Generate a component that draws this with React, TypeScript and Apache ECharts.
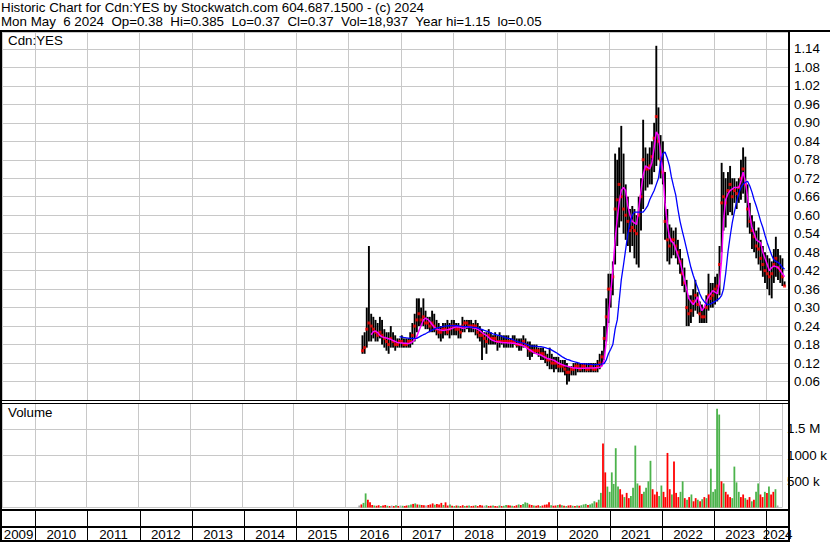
import React, { useEffect, useRef } from "react";
import * as echarts from "echarts";

const FONT = '"Liberation Sans", Arial, Helvetica, sans-serif';
const FS = 13.33;
const GRID_COLOR = "#c8c8c8";

const TITLE_LINE_1 = "Historic Chart for Cdn:YES by Stockwatch.com 604.687.1500 - (c) 2024";
const TITLE_LINE_2 = "Mon May  6 2024  Op=0.38  Hi=0.385  Lo=0.37  Cl=0.37  Vol=18,937  Year hi=1.15  lo=0.05";
const PRICE_PANEL_LABEL = "Cdn:YES";
const VOLUME_PANEL_LABEL = "Volume";
const YEAR_LABELS = ["2009", "2010", "2011", "2012", "2013", "2014", "2015", "2016", "2017", "2018", "2019", "2020", "2021", "2022", "2023", "2024"];
const PRICE_STEP = 0.06;
const VOLUME_TICK_LABELS: Record<number, string> = { 500000: "500 k", 1000000: "1000 k", 1500000: "1.5 M" };

const X_MIN = "2009-05-14";
const X_MAX = "2024-06-08";

// half-monthly samples (8th and 23rd of each month), starting April 2016
const FIRST_YEAR = 2016;
const FIRST_MONTH = 4;
const SAMPLE_DAYS = ["08", "23"];

const HIGH = [
  // 2016 (Apr-Dec)
  0.21, 0.22, 0.30, 0.50, 0.28, 0.27, 0.26, 0.25, 0.27, 0.26, 0.23, 0.22, 0.22, 0.24, 0.22, 0.21, 0.20, 0.20,
  // 2017
  0.21, 0.20, 0.20, 0.20, 0.22, 0.25, 0.28, 0.33, 0.33, 0.30, 0.33, 0.29, 0.27, 0.27, 0.29, 0.28, 0.26, 0.25, 0.24, 0.25, 0.25, 0.26, 0.25, 0.26,
  // 2018
  0.26, 0.25, 0.25, 0.24, 0.27, 0.26, 0.26, 0.26, 0.26, 0.25, 0.26, 0.25, 0.24, 0.23, 0.22, 0.22, 0.23, 0.22, 0.21, 0.22, 0.21, 0.22, 0.21, 0.21,
  // 2019
  0.21, 0.21, 0.20, 0.21, 0.21, 0.20, 0.20, 0.20, 0.21, 0.20, 0.19, 0.19, 0.18, 0.18, 0.18, 0.17, 0.17, 0.17, 0.16, 0.15, 0.17, 0.15, 0.14, 0.14,
  // 2020
  0.14, 0.13, 0.13, 0.13, 0.12, 0.11, 0.11, 0.12, 0.12, 0.12, 0.12, 0.12, 0.12, 0.12, 0.12, 0.12, 0.12, 0.12, 0.13, 0.15, 0.16, 0.24, 0.33, 0.41,
  // 2021
  0.41, 0.45, 0.80, 0.78, 0.82, 0.89, 0.80, 0.70, 0.66, 0.62, 0.63, 0.62, 0.60, 0.66, 0.72, 0.91, 0.82, 0.80, 0.82, 0.84, 0.90, 1.15, 0.95, 0.86,
  // 2022
  0.84, 0.74, 0.62, 0.57, 0.56, 0.55, 0.56, 0.52, 0.49, 0.46, 0.43, 0.39, 0.34, 0.34, 0.36, 0.39, 0.35, 0.32, 0.31, 0.30, 0.34, 0.41, 0.38, 0.38,
  // 2023
  0.40, 0.41, 0.50, 0.77, 0.74, 0.72, 0.74, 0.76, 0.72, 0.72, 0.71, 0.72, 0.78, 0.82, 0.79, 0.70, 0.64, 0.60, 0.58, 0.55, 0.56, 0.52, 0.50, 0.48,
  // 2024 (Jan-May)
  0.47, 0.46, 0.45, 0.49, 0.53, 0.49, 0.47, 0.46, 0.385,
];

const LOW = [
  0.15, 0.15, 0.17, 0.19, 0.19, 0.20, 0.19, 0.19, 0.20, 0.18, 0.17, 0.16, 0.15, 0.17, 0.17, 0.16, 0.17, 0.17,
  0.17, 0.17, 0.17, 0.17, 0.17, 0.18, 0.19, 0.22, 0.24, 0.24, 0.24, 0.23, 0.23, 0.22, 0.22, 0.22, 0.21, 0.20, 0.19, 0.20, 0.21, 0.21, 0.20, 0.21,
  0.21, 0.21, 0.20, 0.20, 0.22, 0.22, 0.23, 0.22, 0.22, 0.22, 0.21, 0.20, 0.19, 0.13, 0.17, 0.15, 0.18, 0.18, 0.18, 0.18, 0.16, 0.17, 0.18, 0.17,
  0.17, 0.17, 0.17, 0.17, 0.18, 0.17, 0.16, 0.16, 0.17, 0.17, 0.14, 0.13, 0.14, 0.15, 0.15, 0.14, 0.13, 0.13, 0.12, 0.11, 0.10, 0.10, 0.09, 0.10,
  0.09, 0.09, 0.09, 0.08, 0.05, 0.06, 0.08, 0.08, 0.08, 0.09, 0.09, 0.09, 0.09, 0.09, 0.09, 0.09, 0.09, 0.09, 0.09, 0.10, 0.11, 0.13, 0.19, 0.25,
  0.30, 0.34, 0.44, 0.50, 0.56, 0.58, 0.54, 0.52, 0.50, 0.48, 0.50, 0.46, 0.44, 0.43, 0.55, 0.62, 0.68, 0.69, 0.70, 0.70, 0.74, 0.76, 0.78, 0.72,
  0.70, 0.52, 0.45, 0.44, 0.46, 0.47, 0.46, 0.44, 0.41, 0.37, 0.35, 0.24, 0.24, 0.25, 0.27, 0.29, 0.28, 0.25, 0.25, 0.25, 0.25, 0.29, 0.30, 0.30,
  0.31, 0.32, 0.34, 0.48, 0.55, 0.56, 0.60, 0.61, 0.60, 0.64, 0.62, 0.64, 0.65, 0.67, 0.64, 0.56, 0.54, 0.49, 0.48, 0.46, 0.44, 0.42, 0.40, 0.38,
  0.36, 0.34, 0.33, 0.38, 0.40, 0.39, 0.38, 0.37, 0.37,
];

const CLOSE = [
  0.16, 0.17, 0.23, 0.25, 0.24, 0.23, 0.22, 0.21, 0.22, 0.21, 0.20, 0.19, 0.18, 0.20, 0.19, 0.18, 0.18, 0.19,
  0.19, 0.18, 0.18, 0.19, 0.19, 0.21, 0.24, 0.26, 0.28, 0.26, 0.27, 0.25, 0.25, 0.24, 0.25, 0.24, 0.23, 0.22, 0.22, 0.23, 0.23, 0.22, 0.23, 0.24,
  0.24, 0.23, 0.23, 0.22, 0.24, 0.25, 0.25, 0.24, 0.24, 0.24, 0.24, 0.22, 0.21, 0.21, 0.20, 0.19, 0.21, 0.20, 0.20, 0.20, 0.19, 0.19, 0.19, 0.19,
  0.19, 0.19, 0.19, 0.19, 0.19, 0.18, 0.18, 0.18, 0.19, 0.18, 0.17, 0.16, 0.16, 0.16, 0.16, 0.16, 0.15, 0.15, 0.14, 0.13, 0.13, 0.12, 0.12, 0.12,
  0.11, 0.11, 0.11, 0.10, 0.09, 0.09, 0.10, 0.10, 0.11, 0.11, 0.10, 0.11, 0.11, 0.10, 0.10, 0.11, 0.10, 0.10, 0.11, 0.12, 0.14, 0.20, 0.27, 0.36,
  0.36, 0.40, 0.62, 0.65, 0.70, 0.66, 0.62, 0.60, 0.58, 0.55, 0.56, 0.55, 0.54, 0.60, 0.66, 0.78, 0.75, 0.75, 0.76, 0.79, 0.85, 0.92, 0.84, 0.78,
  0.74, 0.58, 0.52, 0.50, 0.52, 0.52, 0.50, 0.48, 0.45, 0.41, 0.38, 0.30, 0.28, 0.29, 0.32, 0.34, 0.31, 0.28, 0.27, 0.27, 0.30, 0.34, 0.33, 0.34,
  0.36, 0.37, 0.44, 0.64, 0.66, 0.64, 0.68, 0.70, 0.66, 0.68, 0.67, 0.69, 0.72, 0.75, 0.70, 0.62, 0.58, 0.55, 0.53, 0.50, 0.49, 0.46, 0.44, 0.42,
  0.41, 0.40, 0.41, 0.44, 0.46, 0.43, 0.42, 0.40, 0.37,
];

// short moving average (magenta)
const MA_SHORT = [
  null, null, null, null, 0.212, 0.222, 0.224, 0.219, 0.21, 0.205, 0.203, 0.201, 0.199, 0.197, 0.193, 0.19, 0.187, 0.186,
  0.185, 0.184, 0.184, 0.183, 0.185, 0.189, 0.196, 0.206, 0.225, 0.242, 0.26, 0.266, 0.262, 0.255, 0.245, 0.236, 0.231, 0.228, 0.227, 0.226, 0.227, 0.228, 0.23, 0.232,
  0.235, 0.238, 0.237, 0.235, 0.233, 0.234, 0.236, 0.237, 0.236, 0.234, 0.233, 0.229, 0.225, 0.219, 0.214, 0.21, 0.203, 0.197, 0.193, 0.191, 0.189, 0.188, 0.187, 0.186,
  0.186, 0.185, 0.185, 0.184, 0.184, 0.183, 0.18, 0.178, 0.176, 0.172, 0.167, 0.163, 0.158, 0.153, 0.15, 0.148, 0.146, 0.142, 0.138, 0.135, 0.133, 0.131, 0.129, 0.125,
  0.12, 0.117, 0.114, 0.111, 0.11, 0.108, 0.106, 0.104, 0.104, 0.103, 0.103, 0.103, 0.103, 0.104, 0.104, 0.104, 0.104, 0.105, 0.105, 0.106, 0.11, 0.13, 0.19, 0.27,
  0.35, 0.42, 0.52, 0.59, 0.64, 0.68, 0.69, 0.68, 0.63, 0.60, 0.58, 0.575, 0.57, 0.62, 0.68, 0.73, 0.76, 0.755, 0.75, 0.77, 0.82, 0.87, 0.86, 0.80,
  0.74, 0.64, 0.57, 0.53, 0.515, 0.51, 0.49, 0.47, 0.45, 0.42, 0.39, 0.36, 0.33, 0.32, 0.31, 0.32, 0.335, 0.31, 0.29, 0.30, 0.32, 0.335, 0.345, 0.355,
  0.35, 0.345, 0.38, 0.46, 0.58, 0.65, 0.67, 0.68, 0.685, 0.69, 0.69, 0.69, 0.71, 0.74, 0.71, 0.66, 0.60, 0.56, 0.54, 0.52, 0.515, 0.51, 0.48, 0.46,
  0.44, 0.42, 0.43, 0.435, 0.433, 0.43, 0.42, 0.41, 0.40,
];

// long moving average (blue)
const MA_LONG = [
  null, null, null, null, null, null, null, null, null, null, null, null, null, null, null, null, null, 0.206,
  0.204, 0.203, 0.202, 0.201, 0.20, 0.20, 0.20, 0.20, 0.204, 0.208, 0.212, 0.215, 0.219, 0.223, 0.227, 0.23, 0.233, 0.235, 0.237, 0.239, 0.24, 0.241, 0.241, 0.241,
  0.241, 0.241, 0.241, 0.24, 0.239, 0.238, 0.238, 0.237, 0.237, 0.236, 0.236, 0.234, 0.231, 0.229, 0.226, 0.224, 0.221, 0.218, 0.215, 0.213, 0.211, 0.209, 0.207, 0.204,
  0.202, 0.20, 0.199, 0.196, 0.193, 0.19, 0.188, 0.186, 0.185, 0.182, 0.179, 0.176, 0.175, 0.175, 0.174, 0.173, 0.173, 0.172, 0.17, 0.168, 0.166, 0.162, 0.158, 0.154,
  0.149, 0.144, 0.139, 0.135, 0.132, 0.13, 0.127, 0.125, 0.123, 0.121, 0.119, 0.118, 0.117, 0.117, 0.116, 0.116, 0.115, 0.115, 0.115, 0.116, 0.117, 0.118, 0.13, 0.15,
  0.165, 0.18, 0.23, 0.26, 0.32, 0.39, 0.44, 0.49, 0.54, 0.575, 0.60, 0.61, 0.61, 0.61, 0.61, 0.61, 0.62, 0.63, 0.65, 0.665, 0.68, 0.70, 0.72, 0.77,
  0.80, 0.805, 0.785, 0.76, 0.725, 0.695, 0.665, 0.62, 0.58, 0.55, 0.52, 0.49, 0.46, 0.43, 0.405, 0.385, 0.365, 0.345, 0.33, 0.32, 0.312, 0.31, 0.312, 0.316,
  0.32, 0.325, 0.33, 0.34, 0.36, 0.41, 0.48, 0.53, 0.575, 0.61, 0.645, 0.67, 0.69, 0.70, 0.707, 0.71, 0.695, 0.675, 0.65, 0.63, 0.605, 0.58, 0.56, 0.535,
  0.51, 0.49, 0.47, 0.455, 0.45, 0.447, 0.44, 0.43, 0.425,
];

// volume in thousands of shares
const VOLUME_K = [
  40, 60, 90, 270, 150, 100, 50, 40, 35, 45, 30, 40, 50, 35, 30, 40, 30, 45,
  30, 40, 35, 30, 40, 45, 60, 70, 80, 60, 55, 50, 45, 40, 50, 60, 80, 55, 70, 60, 90, 50, 100, 40,
  60, 35, 30, 40, 35, 30, 45, 30, 35, 40, 30, 35, 45, 30, 50, 40, 35, 45, 30, 35, 40, 30, 25, 40,
  30, 35, 50, 45, 40, 35, 30, 45, 60, 50, 70, 100, 90, 60, 50, 40, 35, 45, 30, 40, 55, 60, 100, 45,
  35, 40, 50, 60, 45, 35, 30, 40, 45, 35, 30, 40, 35, 45, 60, 70, 50, 60, 80, 120, 100, 150, 280, 1220,
  670, 400, 300, 670, 450, 1130, 400, 350, 250, 200, 280, 180, 220, 380, 1180, 460, 420, 260, 300, 380, 500, 890, 350, 250,
  300, 220, 420, 300, 200, 1040, 350, 250, 875, 280, 200, 300, 500, 180, 150, 200, 250, 120, 180, 150, 120, 160, 200, 180,
  250, 740, 300, 350, 1880, 1770, 500, 460, 300, 250, 200, 180, 780, 480, 300, 200, 250, 180, 150, 200, 120, 150, 300, 460,
  250, 200, 300, 280, 400, 250, 300, 350, 40,
];

// 1 = up day (green), -1 = down day (red), 0 = unchanged (grey)
const VOLUME_DIR = [
  0, -1, 1, 1, -1, -1, -1, 1, -1, -1, 1, -1, -1, 1, -1, 0, -1, 1,
  -1, 0, 1, -1, -1, 1, 1, -1, 1, -1, 1, -1, -1, 0, -1, -1, -1, 1, -1, -1, -1, 1, -1, -1,
  1, -1, 1, -1, 1, -1, -1, 1, -1, 1, -1, -1, 1, -1, -1, -1, 0, 1, -1, -1, 1, -1, -1, 1,
  -1, 1, 1, -1, -1, 1, -1, -1, 1, -1, 1, 1, 1, -1, -1, 1, -1, -1, 1, -1, -1, -1, -1, 1,
  -1, -1, 1, -1, 1, -1, 1, -1, -1, 1, -1, 1, -1, 1, 1, 1, -1, 1, 1, 1, -1, 1, 1, -1,
  -1, 1, 1, 1, 1, 1, 1, -1, -1, 1, -1, -1, 1, 1, 1, 1, -1, -1, 1, 1, 1, 1, -1, -1,
  -1, 1, 1, -1, -1, -1, -1, 1, -1, -1, -1, 1, 1, -1, 1, -1, 1, -1, -1, 1, -1, 1, -1, 1,
  -1, 1, 1, 1, 1, 1, -1, 1, -1, -1, -1, 1, 1, 1, 1, -1, -1, 1, -1, -1, 1, -1, 1, 1,
  -1, -1, 1, -1, 1, -1, -1, 1, 0,
];

const DATES = HIGH.map((_, i) => {
  const m = FIRST_MONTH - 1 + Math.floor(i / 2);
  const y = FIRST_YEAR + Math.floor(m / 12);
  const mo = String((m % 12) + 1).padStart(2, "0");
  return `${y}-${mo}-${SAMPLE_DAYS[i % 2]}`;
});

const YEAR_MS = 365 * 24 * 3600 * 1000;
const VOL_COLORS: Record<string, string> = { "1": "#4cb34c", "-1": "#ff0000", "0": "#a8a8a8" };

function xAxis(gridIndex: number, split: boolean) {
  return {
    type: "time",
    gridIndex,
    min: X_MIN,
    max: X_MAX,
    minInterval: YEAR_MS,
    maxInterval: YEAR_MS,
    axisLine: { show: false },
    axisTick: { show: false },
    axisLabel: { show: false },
    splitLine: { show: split, lineStyle: { color: GRID_COLOR, width: 1 } },
  };
}

function txt(text: string, x: number, y: number) {
  return {
    type: "text",
    x,
    y,
    z: 100,
    style: { text, fontSize: FS, fontFamily: FONT, fill: "#000", align: "left", verticalAlign: "middle" },
  };
}

function ln(x1: number, y1: number, x2: number, y2: number, w: number) {
  return { type: "line", z: 100, shape: { x1, y1, x2, y2 }, style: { stroke: "#000", lineWidth: w } };
}

export default function App() {
  const ref = useRef<HTMLDivElement>(null);
  useEffect(() => {
    if (!ref.current) return;
    const chart = echarts.init(ref.current, null, { renderer: "svg" });
    const option: any = {
      animation: false,
      backgroundColor: "#ffffff",
      textStyle: { fontFamily: FONT, fontSize: FS, color: "#000" },
      grid: [
        { left: 2, top: 32, width: 787, height: 368 },
        { left: 2, top: 403, width: 787, height: 104.6 },
        { left: 2, top: 510, width: 787, height: 31 },
      ],
      xAxis: [xAxis(0, true), xAxis(1, true), xAxis(2, false)],
      yAxis: [
        {
          type: "value",
          gridIndex: 0,
          position: "right",
          min: 0,
          max: 1.1948,
          interval: PRICE_STEP,
          axisLine: { show: false },
          axisTick: { show: false },
          splitLine: { show: true, lineStyle: { color: GRID_COLOR, width: 1 } },
          axisLabel: {
            margin: 5,
            fontSize: FS,
            fontFamily: FONT,
            color: "#000",
            showMaxLabel: true,
            formatter: (v: number) => {
              const k = Math.round(v / PRICE_STEP);
              if (k < 1 || k > 19 || Math.abs(v - k * PRICE_STEP) > 1e-6) return "";
              return v.toFixed(2);
            },
          },
        },
        {
          type: "value",
          gridIndex: 1,
          position: "right",
          min: 0,
          max: 1990000,
          interval: 500000,
          axisLine: { show: false },
          axisTick: { show: false },
          splitLine: { show: true, lineStyle: { color: GRID_COLOR, width: 1 } },
          axisLabel: {
            margin: 5,
            fontSize: FS,
            fontFamily: FONT,
            color: "#000",
            formatter: (v: number) => VOLUME_TICK_LABELS[Math.round(v)] ?? "",
          },
        },
        { type: "value", gridIndex: 2, min: 0, max: 1, show: false },
      ],
      series: [
        {
          type: "custom",
          name: "High-Low",
          xAxisIndex: 0,
          yAxisIndex: 0,
          z: 2,
          dimensions: [{ name: "date", type: "time" }, { name: "low", type: "float" }, { name: "high", type: "float" }],
          encode: { x: 0, y: [1, 2] },
          data: DATES.map((d, i) => [d, LOW[i], HIGH[i]]),
          renderItem: (params: any, api: any) => {
            const t = api.value(0);
            const lo = api.coord([t, api.value(1)]);
            const hi = api.coord([t, api.value(2)]);
            return {
              type: "line",
              shape: { x1: lo[0], y1: lo[1], x2: hi[0], y2: hi[1] },
              style: { stroke: "#000", lineWidth: 1.9 },
            };
          },
        },
        {
          type: "scatter",
          name: "Close",
          xAxisIndex: 0,
          yAxisIndex: 0,
          z: 3,
          symbol: "rect",
          symbolSize: 3,
          itemStyle: { color: "#ff0000" },
          data: DATES.map((d, i) => [d, CLOSE[i]]),
        },
        {
          type: "line",
          name: "MA short",
          xAxisIndex: 0,
          yAxisIndex: 0,
          z: 4,
          symbol: "none",
          showSymbol: false,
          lineStyle: { color: "#ff00ff", width: 1.5 },
          data: DATES.map((d, i) => [d, MA_SHORT[i]]),
        },
        {
          type: "line",
          name: "MA long",
          xAxisIndex: 0,
          yAxisIndex: 0,
          z: 5,
          symbol: "none",
          showSymbol: false,
          lineStyle: { color: "#0000ff", width: 1.3 },
          data: DATES.map((d, i) => [d, MA_LONG[i]]),
        },
        {
          type: "custom",
          name: "Volume",
          xAxisIndex: 1,
          yAxisIndex: 1,
          z: 2,
          dimensions: [{ name: "date", type: "time" }, { name: "vol", type: "float" }],
          encode: { x: 0, y: 1 },
          data: DATES.map((d, i) => [d, VOLUME_K[i] * 1000]),
          renderItem: (params: any, api: any) => {
            const t = api.value(0);
            const base = api.coord([t, 0]);
            const top = api.coord([t, api.value(1)]);
            const dir = VOLUME_DIR[params.dataIndex];
            return {
              type: "rect",
              shape: { x: base[0] - 0.9, y: top[1], width: 1.8, height: base[1] - top[1] },
              style: { fill: VOL_COLORS[String(dir)] },
            };
          },
        },
        {
          type: "custom",
          name: "Years",
          xAxisIndex: 2,
          yAxisIndex: 2,
          z: 2,
          dimensions: [{ name: "start", type: "time" }, { name: "end", type: "time" }],
          encode: { x: [0, 1] },
          data: YEAR_LABELS.map((y) => [`${y}-01-01`, `${Number(y) + 1}-01-01`]),
          renderItem: (params: any, api: any) => {
            const cs = params.coordSys;
            const a = api.coord([api.value(0), 0])[0];
            const b = api.coord([api.value(1), 0])[0];
            const l = Math.max(a, cs.x);
            const r = Math.min(b, cs.x + cs.width);
            const children: any[] = [];
            if (a > cs.x + 1) {
              children.push({
                type: "line",
                shape: { x1: Math.round(a) + 0.5, y1: cs.y, x2: Math.round(a) + 0.5, y2: cs.y + cs.height },
                style: { stroke: "#000", lineWidth: 1 },
              });
            }
            children.push({
              type: "text",
              x: (l + r) / 2,
              y: cs.y + 24.5,
              style: {
                text: YEAR_LABELS[params.dataIndex],
                align: "center",
                verticalAlign: "middle",
                fontSize: FS,
                fontFamily: FONT,
                fill: "#000",
              },
            });
            return { type: "group", children };
          },
        },
      ],
      graphic: [
        txt(TITLE_LINE_1, 1, 7.5),
        txt(TITLE_LINE_2, 1, 21.5),
        txt(PRICE_PANEL_LABEL, 8, 40.5),
        txt(VOLUME_PANEL_LABEL, 8, 412),
        ln(0, 31, 830, 31, 2),
        ln(1, 31, 1, 542, 2),
        ln(789, 31, 789, 542, 2),
        ln(0, 400.5, 789, 400.5, 1),
        ln(0, 403.5, 789, 403.5, 1),
        ln(0, 510, 789, 510, 2),
        ln(0, 527, 789, 527, 2),
        ln(0, 541, 789, 541, 2),
      ],
    };
    chart.setOption(option);
    return () => chart.dispose();
  }, []);
  return (
    <div
      ref={ref}
      style={{ position: "absolute", left: 0, top: 0, width: 830, height: 543, background: "#fff" }}
    />
  );
}
